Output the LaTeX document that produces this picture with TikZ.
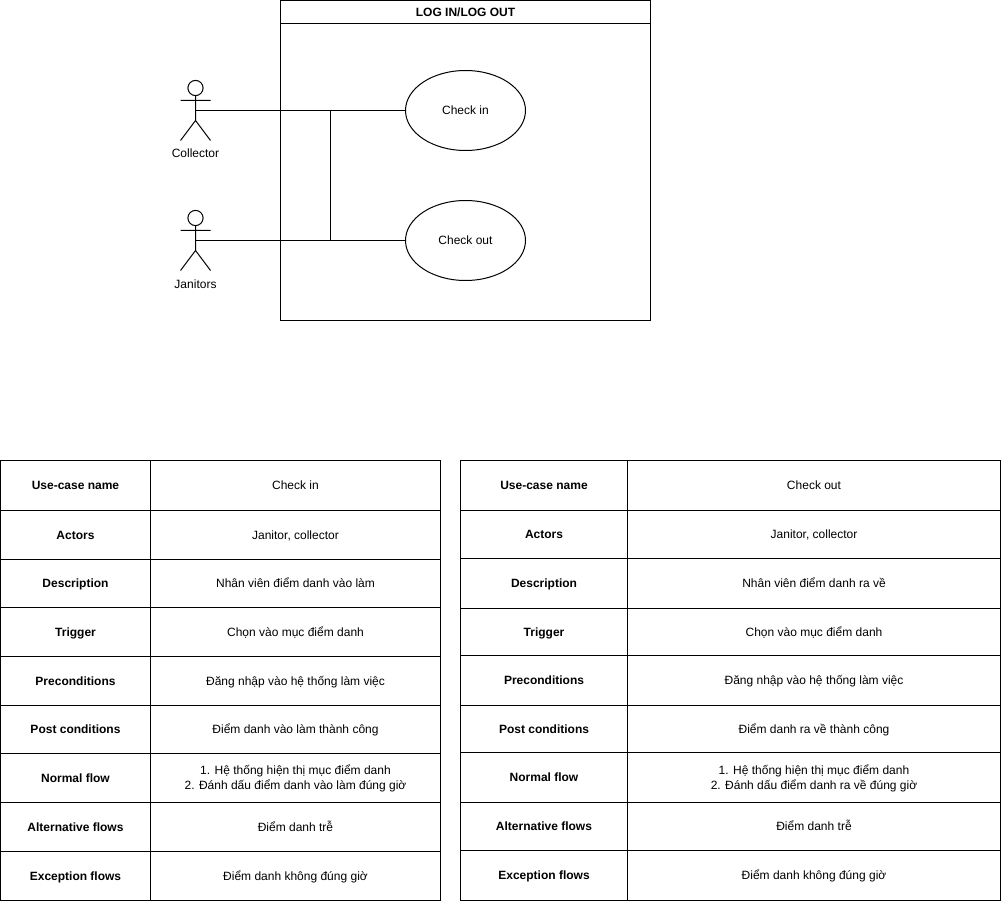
\documentclass[tikz,border=0pt]{standalone}
\usepackage{fontspec}
\setmainfont{Liberation Sans}
\usetikzlibrary{shapes.geometric}
\newcommand{\tstrut}{\rule[-3.5pt]{0pt}{15pt}}
\tikzset{
  ln/.style={line width=1pt,draw=black},
  cell/.style={ln,rectangle,anchor=north west,inner sep=0pt,outer sep=0pt,align=center,font=\fontsize{12}{15}\selectfont},
  head/.style={cell,font=\fontsize{12}{15}\selectfont\bfseries},
  usecase/.style={ln,ellipse,minimum width=120pt,minimum height=80pt,inner sep=0pt,outer sep=0pt,font=\fontsize{12}{15}\selectfont},
  lbl/.style={inner sep=0pt,font=\fontsize{12}{15}\selectfont},
}
% name, xa, xb, xc, ya, yb, label, value
\newcommand{\tblrow}[8]{%
  \node[head,minimum width={(#3-#2)*1pt},minimum height={(#6-#5)*1pt}] (#1l) at (#2,#5) {\tstrut #7};
  \node[cell,minimum width={(#4-#3)*1pt},minimum height={(#6-#5)*1pt}] (#1r) at (#3,#5) {\tstrut #8};
}
% name, head centre x, head centre y
\newcommand{\actor}[3]{%
  \draw[ln] (#2,#3) circle (7.6);
  \draw[ln] (#2,#3+7.6) -- (#2,#3+32.5) (#2-15,#3+12.5) -- (#2+15,#3+12.5)
            (#2-15,#3+52.5) -- (#2,#3+32.5) -- (#2+15,#3+52.5);
  \coordinate (#1) at (#2,#3+22.5);
}
\begin{document}
\begin{tikzpicture}[x=1pt,y=-1pt]
\useasboundingbox (0,0) rectangle (1001,901);
% system frame
\node[cell,minimum width=370pt,minimum height=320pt] (frame) at (280.5,0.5) {};
\node[cell,minimum width=370pt,minimum height=23pt] (title) at (280.5,0.5) {};
\node[inner sep=0pt,font=\fontsize{12}{15}\selectfont\bfseries] (titletext) at (465.5,12.5) {\tstrut LOG IN/LOG OUT};
% use cases
\node[usecase] (checkin) at (465.5,110.5) {\tstrut Check in};
\node[usecase] (checkout) at (465.5,240.5) {\tstrut Check out};
% actors
\actor{collector}{195.5}{88}
\actor{janitors}{195.5}{218}
\node[lbl] (collectorlabel) at (195.5,154) {\tstrut Collector};
\node[lbl] (janitorslabel) at (195.5,284) {\tstrut Janitors};
% connectors
\coordinate (jtop) at (330.5,110.5);
\coordinate (jbot) at (330.5,240.5);
\draw[ln] (collector) -- (checkin.west);
\draw[ln] (janitors) -- (checkout.west);
\draw[ln] (jtop) -- (jbot);
% left table
\tblrow{a1}{0.5}{150.5}{440.5}{460.5}{510.5}{Use-case name}{Check in}
\tblrow{a2}{0.5}{150.5}{440.5}{510.5}{559.5}{Actors}{Janitor, collector}
\tblrow{a3}{0.5}{150.5}{440.5}{559.5}{607.5}{Description}{Nhân viên điểm danh vào làm}
\tblrow{a4}{0.5}{150.5}{440.5}{607.5}{656.5}{Trigger}{Chọn vào mục điểm danh}
\tblrow{a5}{0.5}{150.5}{440.5}{656.5}{705.5}{Preconditions}{Đăng nhập vào hệ thống làm việc}
\tblrow{a6}{0.5}{150.5}{440.5}{705.5}{753.5}{Post conditions}{Điểm danh vào làm thành công}
\tblrow{a7}{0.5}{150.5}{440.5}{753.5}{802.5}{Normal flow}{1. Hệ thống hiện thị mục điểm danh\tstrut\\\tstrut 2. Đánh dấu điểm danh vào làm đúng giờ}
\tblrow{a8}{0.5}{150.5}{440.5}{802.5}{851.5}{Alternative flows}{Điểm danh trễ}
\tblrow{a9}{0.5}{150.5}{440.5}{851.5}{900.5}{Exception flows}{Điểm danh không đúng giờ}
% right table
\tblrow{b1}{460.5}{627.5}{1000.5}{460.5}{510.5}{Use-case name}{Check out}
\tblrow{b2}{460.5}{627.5}{1000.5}{510.5}{558.5}{Actors}{Janitor, collector}
\tblrow{b3}{460.5}{627.5}{1000.5}{558.5}{608.5}{Description}{Nhân viên điểm danh ra về}
\tblrow{b4}{460.5}{627.5}{1000.5}{608.5}{655.5}{Trigger}{Chọn vào mục điểm danh}
\tblrow{b5}{460.5}{627.5}{1000.5}{655.5}{705.5}{Preconditions}{Đăng nhập vào hệ thống làm việc}
\tblrow{b6}{460.5}{627.5}{1000.5}{705.5}{752.5}{Post conditions}{Điểm danh ra về thành công}
\tblrow{b7}{460.5}{627.5}{1000.5}{752.5}{802.5}{Normal flow}{1. Hệ thống hiện thị mục điểm danh\tstrut\\\tstrut 2. Đánh dấu điểm danh ra về đúng giờ}
\tblrow{b8}{460.5}{627.5}{1000.5}{802.5}{850.5}{Alternative flows}{Điểm danh trễ}
\tblrow{b9}{460.5}{627.5}{1000.5}{850.5}{900.5}{Exception flows}{Điểm danh không đúng giờ}
\end{tikzpicture}
\end{document}
